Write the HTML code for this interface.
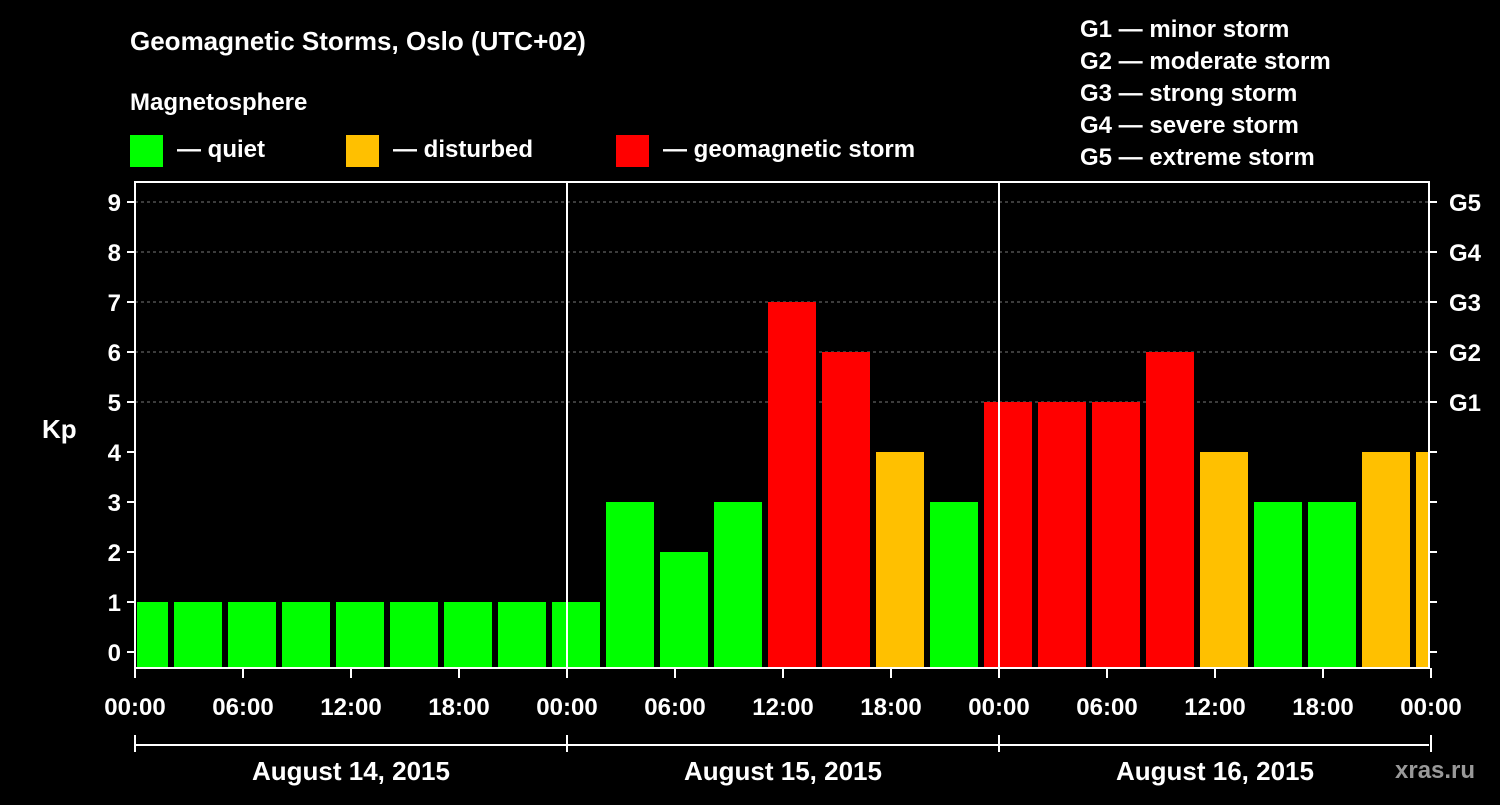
<!DOCTYPE html>
<html><head><meta charset="utf-8"><style>
body{margin:0;background:#000;width:1500px;height:800px;overflow:hidden}
svg text{font-family:"Liberation Sans",Arial,sans-serif;font-weight:bold;fill:#fff}
</style></head><body>
<svg id="c" width="1500" height="800" xmlns="http://www.w3.org/2000/svg">
<rect width="1500" height="800" fill="#000"/>
<text x="130" y="50" font-size="26">Geomagnetic Storms, Oslo (UTC+02)</text>
<text x="130" y="110" font-size="24">Magnetosphere</text>
<g><rect x="130" y="135" width="33" height="32" fill="#00ff00"/><text x="177" y="157" font-size="24">— quiet</text></g>
<g><rect x="346" y="135" width="33" height="32" fill="#ffc000"/><text x="393" y="157" font-size="24">— disturbed</text></g>
<g><rect x="616" y="135" width="33" height="32" fill="#ff0000"/><text x="663" y="157" font-size="24">— geomagnetic storm</text></g>
<g font-size="24">
<text x="1080" y="37">G1 — minor storm</text><text x="1080" y="69">G2 — moderate storm</text><text x="1080" y="101">G3 — strong storm</text><text x="1080" y="133">G4 — severe storm</text><text x="1080" y="165">G5 — extreme storm</text></g>
<text x="42" y="438" font-size="26">Kp</text>
<text x="1395" y="778" font-size="24" fill="#888" style="fill:#999">xras.ru</text>
<g id="plot"></g>
</svg>
<script>
const kpValues=[1,1,1,1,1,1,1,1,1,3,2,3,7,6,4,3,5,5,5,6,4,3,3,4,4];
const yTicks=[0,1,2,3,4,5,6,7,8,9];
const gLabels=["G1","G2","G3","G4","G5"];
const xTickLabels=["00:00","06:00","12:00","18:00","00:00","06:00","12:00","18:00","00:00","06:00","12:00","18:00","00:00"];
const dateLabels=["August 14, 2015","August 15, 2015","August 16, 2015"];
const L=135,R=1429,T=182,B=668,NS="http://www.w3.org/2000/svg";
const y=v=>652-v*50;
const xh=h=>L+h*18; // hours since start (local)
const g=document.getElementById('plot');
function mk(t,a,p){const e=document.createElementNS(NS,t);for(const k in a)e.setAttribute(k,a[k]);(p||g).appendChild(e);return e;}
// gridlines
yTicks.forEach(v=>{if(v>=5){const l=mk('line',{x1:L,x2:R,y1:y(v),y2:y(v),stroke:'#777','stroke-dasharray':'3,3'});

}});
// bars
kpValues.forEach((v,i)=>{
 let x0=xh(2+3*(i-1))+3,x1=x0+48;x0=Math.max(x0,L+2);x1=Math.min(x1,R);
 const col=v>=5?'#ff0000':v>=4?'#ffc000':'#00ff00';
 const r=mk('rect',{x:x0,y:y(v),width:x1-x0,height:B-y(v),fill:col});
 
 
});
// day separators
[1,2].forEach(d=>{const l=mk('line',{x1:xh(24*d),x2:xh(24*d),y1:T,y2:B,stroke:'#fff','stroke-width':2});

});
// frame
const f=mk('rect',{x:L,y:T,width:R-L,height:B-T,fill:'none',stroke:'#fff','stroke-width':2});


yTicks.forEach(v=>{
 mk('line',{x1:L-8,x2:L,y1:y(v),y2:y(v),stroke:'#fff','stroke-width':2});
 mk('line',{x1:R,x2:R+8,y1:y(v),y2:y(v),stroke:'#fff','stroke-width':2});
 const t=mk('text',{x:L-14,y:y(v)+9,'font-size':24,'text-anchor':'end'});t.textContent=v;
 
 
 if(v>=5){const gt=mk('text',{x:R+20,y:y(v)+9,'font-size':24});gt.textContent=gLabels[v-5];
 
 }
});
xTickLabels.forEach((s,i)=>{
 const x=xh(6*i);
 mk('line',{x1:x,x2:x,y1:B,y2:B+10,stroke:'#fff','stroke-width':2});
 const t=mk('text',{x:x,y:715,'font-size':24,'text-anchor':'middle'});t.textContent=s;
 
 
});
mk('line',{x1:L,x2:R,y1:745,y2:745,stroke:'#fff','stroke-width':2});
[0,1,2,3].forEach(d=>mk('line',{x1:xh(24*d),x2:xh(24*d),y1:735,y2:752,stroke:'#fff','stroke-width':2}));
dateLabels.forEach((s,d)=>{const t=mk('text',{x:xh(24*d+12),y:780,'font-size':26,'text-anchor':'middle'});t.textContent=s;
 
 });
</script>
</body></html>
